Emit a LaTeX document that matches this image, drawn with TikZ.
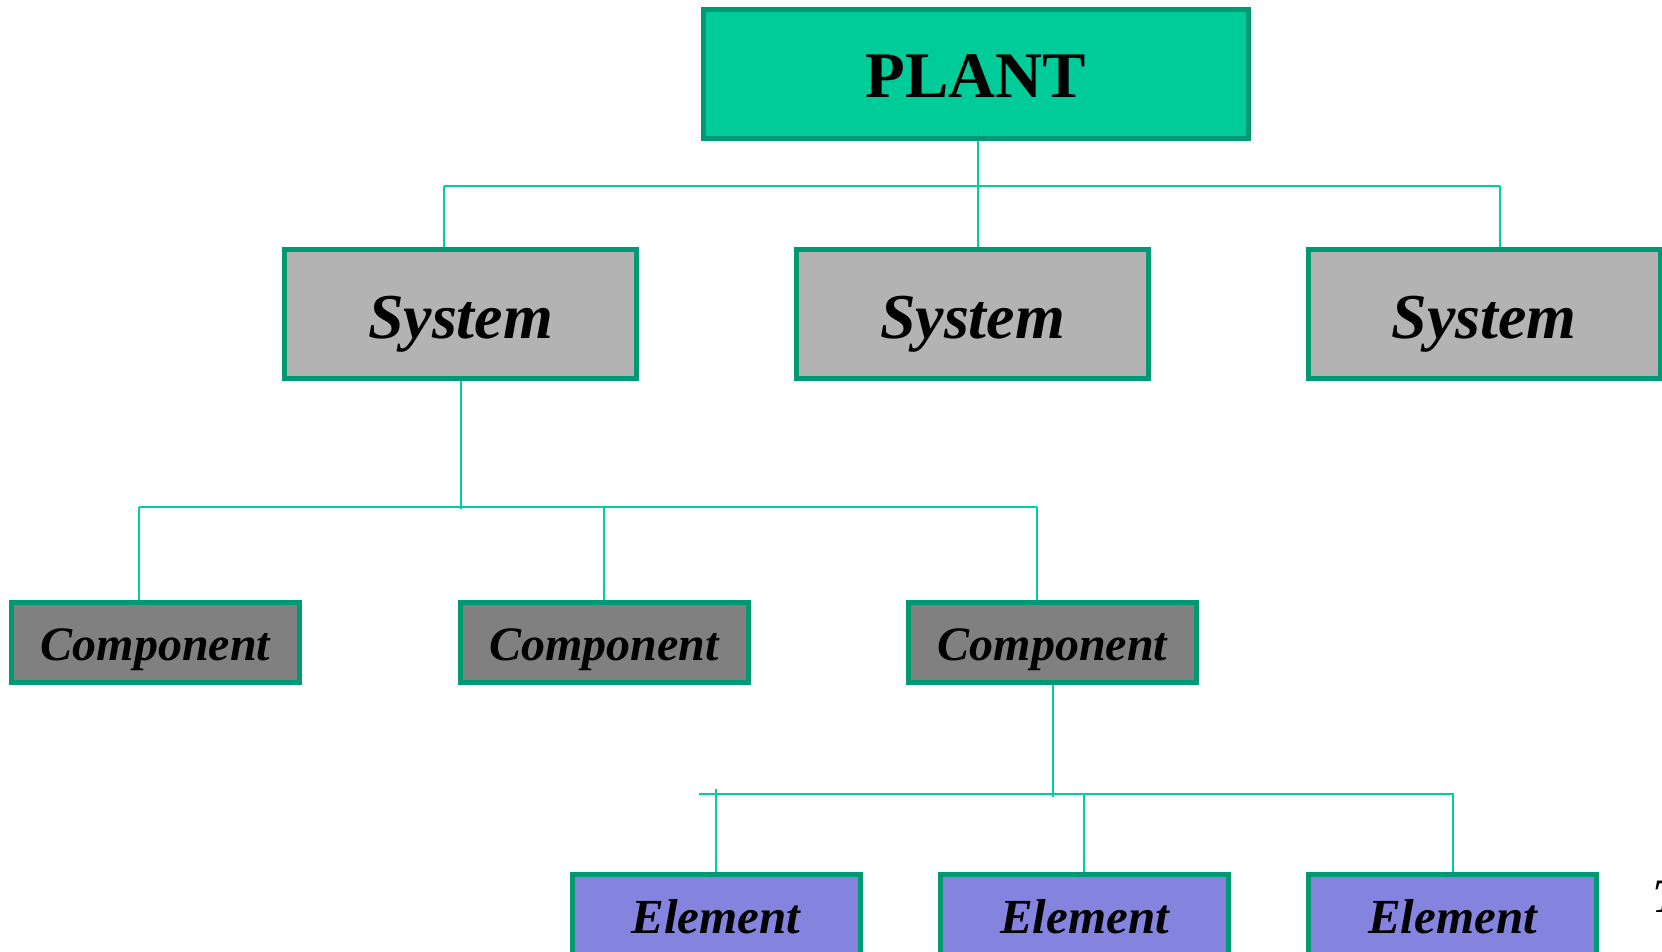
\documentclass[tikz,border=0pt]{standalone}
\usepackage{fontspec}
\setmainfont{Liberation Serif}
\usetikzlibrary{backgrounds}
\definecolor{plantfill}{RGB}{0,204,153}
\definecolor{edgegreen}{RGB}{0,153,115}
\definecolor{wiregreen}{RGB}{0,209,155}
\definecolor{sysfill}{RGB}{179,179,179}
\definecolor{compfill}{RGB}{128,128,128}
\definecolor{elemfill}{RGB}{132,132,222}

\tikzset{
  box/.style={draw=edgegreen, line width=5pt, rectangle, inner sep=0pt, text=black, text depth=0pt},
  plantbox/.style={box, fill=plantfill, minimum width=545pt, minimum height=129pt,
    text height=47pt, font=\fontsize{65}{78}\selectfont\bfseries},
  sysbox/.style={box, fill=sysfill, minimum width=352pt, minimum height=129pt,
    text height=49pt, font=\fontsize{64}{77}\selectfont\bfseries\itshape},
  compbox/.style={box, fill=compfill, minimum width=288pt, minimum height=80pt,
    text height=36pt, font=\fontsize{48}{58}\selectfont\bfseries\itshape},
  elembox/.style={box, fill=elemfill, minimum width=288pt, minimum height=80pt,
    text height=38pt, font=\fontsize{49}{58}\selectfont\bfseries\itshape},
  wire/.style={draw=wiregreen, line width=2pt},
}

\begin{document}
\begin{tikzpicture}[x=1pt, y=-1pt]
  \useasboundingbox (0,0) rectangle (1662,952);
  \clip (0,0) rectangle (1662,952);

  % hierarchy boxes
  \node[plantbox] (plant) at (976,74) {PLANT};

  \node[sysbox] (sysA) at (460.5,314) {System};
  \node[sysbox] (sysB) at (972.5,314) {System};
  \node[sysbox] (sysC) at (1484,314) {System};

  \node[compbox] (compA) at (155.5,642.5) {Component};
  \node[compbox] (compB) at (604,642.5) {Component};
  \node[compbox] (compC) at (1052.5,642.5) {Component};

  \node[elembox] (elemA) at (716,914.5) {Element};
  \node[elembox] (elemB) at (1084.5,914.5) {Element};
  \node[elembox] (elemC) at (1452.5,914.5) {Element};

  % text running off the right edge
  \node[anchor=base west, inner sep=0pt, font=\fontsize{48}{58}\selectfont\bfseries\itshape] (tail) at (1652,912) {T};

  % bus junctions
  \coordinate (topL) at (444,186);
  \coordinate (topM) at (978,186);
  \coordinate (topR) at (1500,186);
  \coordinate (midL) at (139,507);
  \coordinate (midM) at (604,507);
  \coordinate (midR) at (1037,507);
  \coordinate (midS) at (460.5,509);
  \coordinate (lowL) at (699,794);
  \coordinate (lowA) at (716,789);
  \coordinate (lowB) at (1084,794);
  \coordinate (lowR) at (1454,794);
  \coordinate (lowC) at (1452.5,794);
  \coordinate (lowS) at (1052.5,797);

  \begin{scope}[on background layer]
    % plant to systems
    \draw[wire] (topL) -- (topR);
    \draw[wire] (plant.south -| topM) -- (sysB.north -| topM);
    \draw[wire] (topL) -- (sysA.north -| topL);
    \draw[wire] (topR) -- (sysC.north -| topR);
    % system to components
    \draw[wire] (sysA.south) -- (midS);
    \draw[wire] (midL) -- (midR);
    \draw[wire] (midL) -- (compA.north -| midL);
    \draw[wire] (midM) -- (compB.north);
    \draw[wire] (midR) -- (compC.north -| midR);
    % component to elements
    \draw[wire] (compC.south) -- (lowS);
    \draw[wire] (lowL) -- (lowR);
    \draw[wire] (lowA) -- (elemA.north);
    \draw[wire] (lowB) -- (elemB.north -| lowB);
    \draw[wire] (lowC) -- (elemC.north);
  \end{scope}
\end{tikzpicture}
\end{document}
